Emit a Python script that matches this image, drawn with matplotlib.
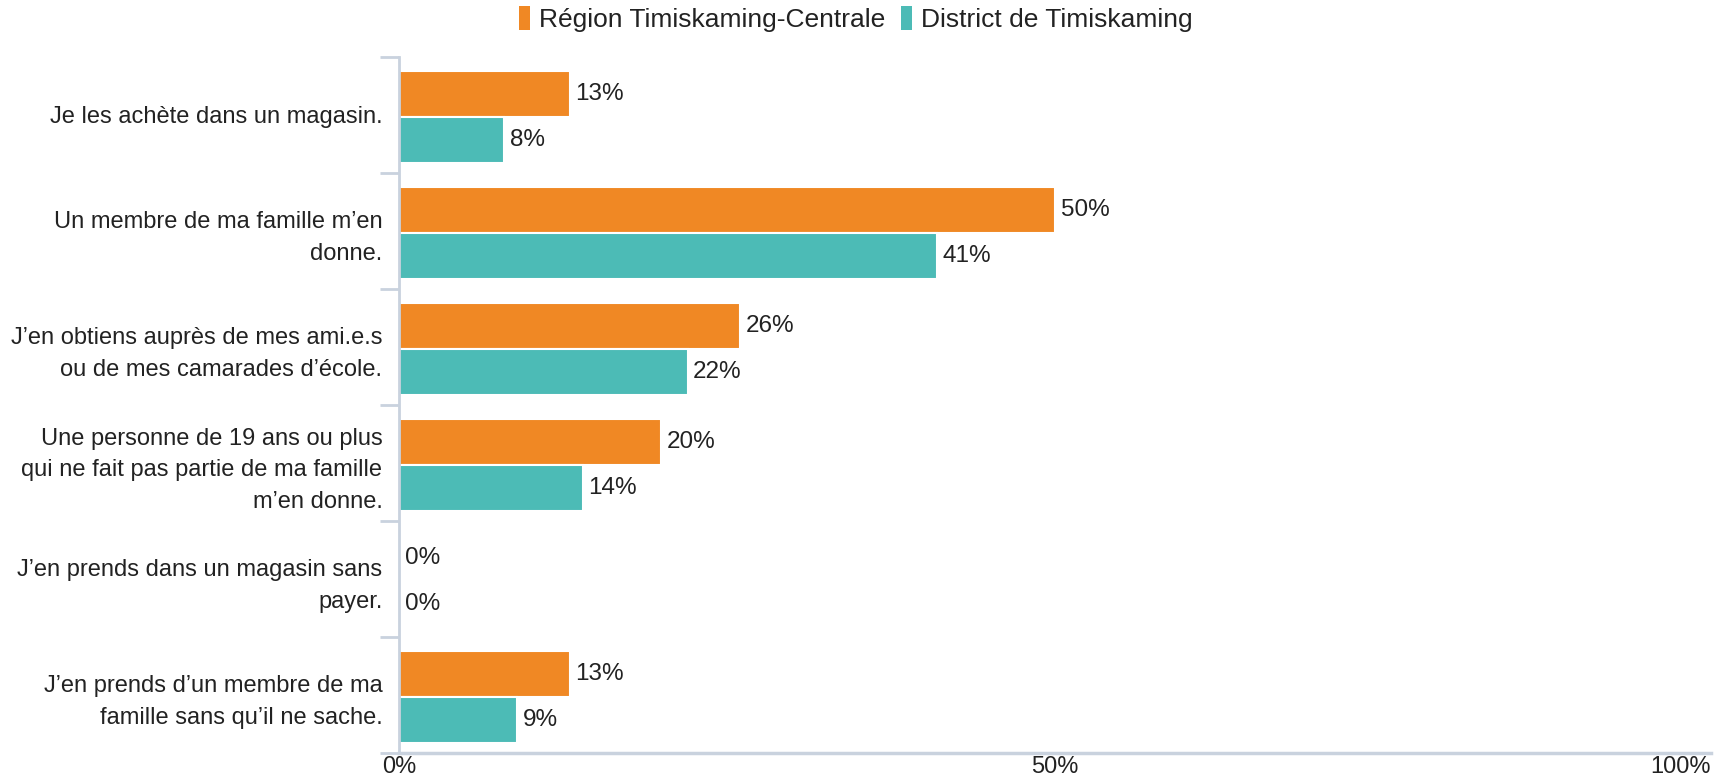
import numpy as np
import matplotlib
matplotlib.use("Agg")
import matplotlib.pyplot as plt
from matplotlib.patches import Patch

plt.rcParams['font.family'] = ['Liberation Sans', 'DejaVu Sans']

# data
categories = [
    "Je les achète dans un magasin.",
    "Un membre de ma famille m’en\ndonne.",
    "J’en obtiens auprès de mes ami.e.s\nou de mes camarades d’école.",
    "Une personne de 19 ans ou plus\nqui ne fait pas partie de ma famille\nm’en donne.",
    "J’en prends dans un magasin sans\npayer.",
    "J’en prends d’un membre de ma\nfamille sans qu’il ne sache.",
]
region = [13, 50, 26, 20, 0, 13]
district = [8, 41, 22, 14, 0, 9]
series_names = ["Région Timiskaming-Centrale", "District de Timiskaming"]
colors = ["#F08824", "#4CBBB6"]
xticks = [0, 50, 100]
xtick_labels = ["0%", "50%", "100%"]

fs = 17
txt = "#222222"
axcol = "#C9D2DE"

fig = plt.figure(figsize=(17.29, 7.75), dpi=100)
ax = fig.add_axes([0.2308, 0.0284, 0.7588, 0.8981])

y = np.arange(len(categories))
h = 0.39
b1 = ax.barh(y - 0.18, region, height=h, color=colors[0], edgecolor="white", linewidth=1.5)
b2 = ax.barh(y + 0.215, district, height=h, color=colors[1], edgecolor="white", linewidth=1.5)

for bars, vals in [(b1, region), (b2, district)]:
    for bar, v in zip(bars, vals):
        ax.annotate(f"{v}%", (v, bar.get_y() + bar.get_height() / 2),
                    xytext=(4, 0), textcoords="offset points",
                    va="center", ha="left", fontsize=fs + 0.5, color=txt)

ax.set_ylim(len(categories) - 0.5, -0.5)
ax.set_xlim(0, 100)

ax.set_yticks(y)
ax.set_yticklabels(categories, fontsize=fs, color=txt, linespacing=1.55)
ax.tick_params(axis="y", which="major", length=0, pad=12)
ax.set_yticks(np.arange(-0.5, len(categories)), minor=True)
ax.tick_params(axis="y", which="minor", length=14, width=2, color=axcol)

ax.set_xticks(xticks)
ax.set_xticklabels(xtick_labels, fontsize=fs, color=txt)
ax.tick_params(axis="x", length=0, pad=2)
lbls = ax.get_xticklabels()
lbls[-1].set_horizontalalignment("right")

for s in ["top", "right"]:
    ax.spines[s].set_visible(False)
ax.spines["left"].set_color(axcol)
ax.spines["left"].set_linewidth(2)
ax.spines["bottom"].set_color(axcol)
ax.spines["bottom"].set_linewidth(2.5)

handles = [Patch(facecolor=c, edgecolor="none") for c in colors]
fig.legend(handles, series_names, loc="center", bbox_to_anchor=(0.495, 0.975),
           ncol=2, frameon=False, fontsize=19, handlelength=0.4, handleheight=1.0,
           handletextpad=0.35, columnspacing=0.6, labelcolor=txt)

fig.savefig("out.png", dpi=100)
